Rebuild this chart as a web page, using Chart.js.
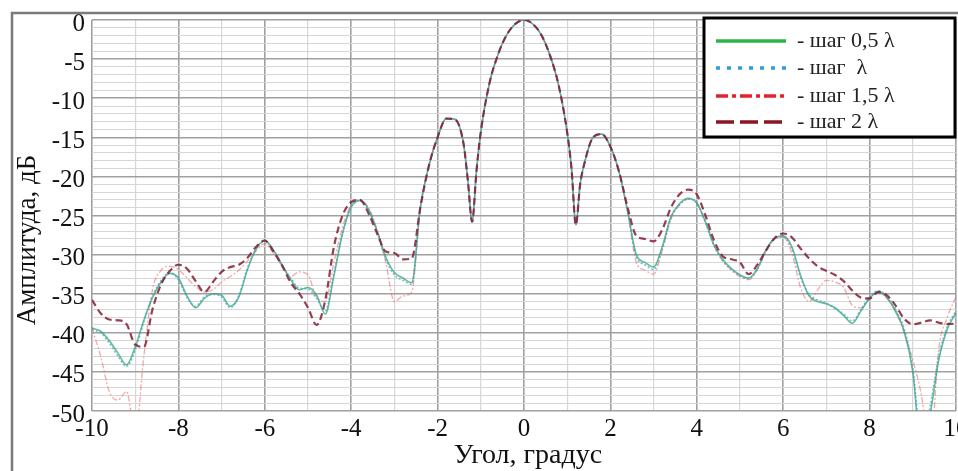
<!DOCTYPE html>
<html>
<head>
<meta charset="utf-8">
<script src="https://cdn.jsdelivr.net/npm/chart.js@4/dist/chart.umd.min.js"></script>
<style>
html,body{margin:0;padding:0;background:#fff;}
#wrap{width:958px;height:471px;position:relative;}
</style>
</head>
<body>
<div id="wrap"><canvas id="c" width="958" height="471"></canvas></div>
<script>
// Angle, degrees
const angles = [-10,-9.8,-9.6,-9.4,-9.2,-9,-8.8,-8.6,-8.4,-8.2,-8,-7.8,-7.6,-7.4,-7.2,-7,-6.8,-6.6,-6.4,-6.2,-6,-5.8,-5.6,-5.4,-5.2,-5,-4.8,-4.6,-4.4,-4.2,-4,-3.8,-3.6,-3.4,-3.2,-3,-2.8,-2.6,-2.4,-2.2,-2,-1.8,-1.6,-1.4,-1.3,-1.2,-1.1,-1,-0.8,-0.6,-0.4,-0.2,0,0.2,0.4,0.6,0.8,1,1.1,1.2,1.3,1.4,1.6,1.8,2,2.2,2.4,2.6,2.8,3,3.2,3.4,3.6,3.8,4,4.2,4.4,4.6,4.8,5,5.2,5.4,5.6,5.8,6,6.2,6.4,6.6,6.8,7,7.2,7.4,7.6,7.8,8,8.2,8.4,8.6,8.8,9,9.2,9.4,9.6,9.8,10];

// step 0.5 lambda
const step05 = [-39.4,-39.8,-41.0,-42.6,-44.1,-41.8,-38.4,-35.5,-33.5,-32.4,-33.0,-35.3,-36.8,-35.6,-35.0,-35.2,-36.6,-35.4,-31.9,-29.3,-28.2,-29.4,-31.3,-33.2,-34.5,-34.2,-35.2,-37.6,-32.7,-27.3,-23.9,-23.1,-24.2,-27.0,-30.3,-32.3,-33.0,-33.6,-24.0,-18.6,-15.0,-12.6,-12.7,-15.8,-20.5,-25.8,-19.3,-14.3,-8.1,-4.4,-1.9,-0.5,0,-0.5,-1.9,-4.5,-8.3,-14.4,-19.0,-26.2,-21.0,-18.3,-15.0,-14.6,-16.2,-19.4,-24.5,-30.0,-31.0,-31.6,-29.0,-25.2,-23.5,-22.8,-23.4,-25.8,-28.8,-30.6,-31.8,-32.6,-33.0,-31.8,-29.4,-27.9,-27.6,-29.0,-32.6,-35.3,-36.0,-36.3,-36.8,-37.8,-38.8,-37.2,-35.6,-34.7,-35.5,-37.3,-39.8,-45.0,-55.0,-50.5,-43.5,-39.5,-37.5];

// step lambda
const step1 = [-39.6,-40.0,-41.3,-43.0,-44.3,-42.2,-38.6,-35.3,-33.3,-32.3,-33.2,-35.5,-36.6,-35.4,-35.1,-35.4,-36.8,-35.2,-31.7,-29.2,-28.3,-29.5,-31.4,-33.0,-34.3,-34.4,-35.6,-37.2,-32.4,-27.2,-23.9,-23.1,-24.3,-27.1,-30.6,-32.6,-33.3,-33.8,-24.0,-18.6,-15.0,-12.6,-12.7,-15.8,-20.5,-25.8,-19.3,-14.3,-8.1,-4.4,-1.9,-0.5,0,-0.5,-1.9,-4.5,-8.3,-14.4,-19.0,-26.2,-21.0,-18.3,-15.0,-14.6,-16.2,-19.4,-24.5,-30.3,-31.3,-31.9,-29.2,-25.3,-23.6,-22.9,-23.4,-25.9,-28.9,-30.8,-31.9,-32.7,-33.1,-31.9,-29.5,-28.0,-27.7,-29.2,-32.9,-35.1,-35.8,-36.2,-36.9,-37.6,-38.5,-37.0,-35.4,-34.6,-35.3,-37.0,-39.5,-44.5,-54.0,-49.5,-43.0,-39.2,-37.2];

// step 1.5 lambda
const step15 = [-39.4,-43.0,-47.5,-48.6,-47.5,-53.0,-43.0,-34.5,-32.0,-31.5,-31.9,-33.0,-34.1,-34.8,-34.5,-33.5,-32.8,-32.0,-30.8,-29.5,-28.6,-29.8,-31.5,-32.8,-32.2,-32.6,-35.5,-36.0,-31.0,-26.5,-23.6,-23.0,-24.0,-26.8,-31.0,-36.0,-35.3,-34.8,-24.0,-18.6,-15.0,-12.6,-12.7,-15.8,-20.5,-25.8,-19.3,-14.3,-8.1,-4.4,-1.9,-0.5,0,-0.5,-1.9,-4.5,-8.3,-14.4,-19.0,-26.2,-21.0,-18.3,-15.0,-14.6,-16.2,-19.4,-24.5,-31.0,-32.0,-32.5,-29.5,-25.5,-23.7,-22.9,-23.4,-25.8,-28.8,-30.8,-32.0,-32.8,-33.2,-32.0,-29.6,-28.0,-27.8,-29.8,-34.2,-36.0,-34.5,-33.3,-33.5,-34.2,-36.5,-36.8,-35.5,-34.8,-35.6,-37.1,-40.0,-43.5,-48.0,-55.0,-42.0,-38.0,-35.4];

// step 2 lambda
const step2 = [-35.8,-37.5,-38.3,-38.4,-38.9,-41.5,-41.8,-37.0,-33.8,-32.1,-31.3,-31.8,-33.4,-34.8,-33.5,-32.2,-31.6,-31.3,-30.4,-29.0,-28.2,-29.6,-31.4,-33.6,-35.0,-36.8,-39.0,-35.8,-29.0,-25.0,-23.3,-23.0,-24.7,-27.3,-29.6,-29.8,-30.6,-30.5,-24.0,-18.6,-15.0,-12.6,-12.7,-15.8,-20.5,-25.8,-19.3,-14.3,-8.1,-4.4,-1.9,-0.5,0,-0.5,-1.9,-4.5,-8.3,-14.4,-19.0,-26.2,-21.0,-18.3,-15.0,-14.6,-16.2,-19.4,-24.0,-27.6,-28.0,-28.3,-26.8,-24.0,-22.3,-21.7,-22.3,-25.0,-28.2,-30.2,-30.6,-31.0,-32.5,-31.3,-29.5,-27.9,-27.3,-27.8,-29.2,-30.5,-31.5,-32.1,-32.6,-33.4,-34.6,-35.5,-35.6,-34.8,-35.2,-36.5,-38.2,-38.9,-38.7,-38.4,-38.7,-38.9,-38.8];

const xTickLabels = ['-10','-8','-6','-4','-2','0','2','4','6','8','10'];
const yTickLabels = ['0','-5','-10','-15','-20','-25','-30','-35','-40','-45','-50'];
const seriesNames = ['- шаг 0,5 λ', '- шаг  λ', '- шаг 1,5 λ', '- шаг 2 λ'];
const xTitle = 'Угол, градус';
const yTitle = 'Амплитуда, дБ';

const SERIF = "'Liberation Serif', 'Times New Roman', serif";
const toPts = arr => angles.map((x, i) => ({x: x, y: arr[i]}));

const legendStyles = [
  {color:'#2db34a', dash:[], width:3.5},
  {color:'#2a9fd8', dash:[4,7], width:3.5},
  {color:'#e8202a', dash:[12,4,4,4], width:3.5},
  {color:'#8b1520', dash:[18,6], width:3.5}
];

const decor = {
  id:'decor',
  beforeDraw(chart){
    const c = chart.ctx;
    c.save();
    c.fillStyle = '#fff';
    c.fillRect(0,0,chart.width,chart.height);
    c.restore();
  },
  afterDraw(chart){
    const c = chart.ctx;
    c.save();
    // figure frame
    c.strokeStyle = '#7a7a7a';
    c.lineWidth = 2.5;
    c.beginPath();
    c.moveTo(12, 471); c.lineTo(12, 13); c.lineTo(958, 13);
    c.stroke();
    // axis titles
    c.fillStyle = '#111';
    c.textAlign = 'center';
    c.textBaseline = 'middle';
    c.font = '28px ' + SERIF;
    c.fillText(xTitle, 528, 456);
    c.font = '27px ' + SERIF;
    c.translate(28, 240);
    c.rotate(-Math.PI/2);
    c.fillText(yTitle, 0, 0);
    c.restore();
    // legend
    c.save();
    c.fillStyle = '#fff';
    c.fillRect(704, 18, 251, 119);
    c.strokeStyle = '#000';
    c.lineWidth = 3;
    c.strokeRect(704, 18, 251, 119);
    const ys = [41, 68, 96, 122];
    c.font = '22px ' + SERIF;
    c.textAlign = 'left';
    c.textBaseline = 'middle';
    for (let i = 0; i < 4; i++) {
      const s = legendStyles[i];
      c.strokeStyle = s.color;
      c.lineWidth = s.width;
      c.setLineDash(s.dash);
      c.beginPath();
      c.moveTo(716, ys[i]); c.lineTo(786, ys[i]);
      c.stroke();
      c.setLineDash([]);
      c.fillStyle = '#222';
      c.fillText(seriesNames[i], 797, ys[i]);
    }
    c.restore();
  }
};

const MAJ = '#a0a0a0', MIN = '#d6d6d6';

new Chart(document.getElementById('c'), {
  type:'line',
  data:{
    datasets:[
      {label:seriesNames[0], data:toPts(step05), borderColor:'rgba(40,160,100,0.7)', borderWidth:1.6, pointRadius:0, cubicInterpolationMode:'monotone', order:2, clip:0},
      {label:seriesNames[1], data:toPts(step1), borderColor:'rgba(70,165,215,0.75)', borderWidth:1.6, borderDash:[2,2], pointRadius:0, cubicInterpolationMode:'monotone', order:1, clip:0},
      {label:seriesNames[2], data:toPts(step15), borderColor:'rgba(238,110,110,0.6)', borderWidth:1.3, borderDash:[6,2,2,2], pointRadius:0, cubicInterpolationMode:'monotone', order:3, clip:0},
      {label:seriesNames[3], data:toPts(step2), borderColor:'rgba(130,30,50,0.85)', borderWidth:2.2, borderDash:[7,4], pointRadius:0, cubicInterpolationMode:'monotone', order:0, clip:0}
    ]
  },
  options:{
    responsive:false,
    animation:false,
    devicePixelRatio:1,
    layout:{autoPadding:false, padding:{left:0, top:20, right:2, bottom:0}},
    plugins:{legend:{display:false}, tooltip:{enabled:false}},
    scales:{
      x:{
        type:'linear', min:-10, max:10,
        border:{display:false},
        grid:{drawTicks:false,
          color: ctx => (ctx.tick && Math.round(ctx.tick.value) % 2 === 0) ? MAJ : MIN,
          lineWidth: ctx => (ctx.tick && Math.round(ctx.tick.value) % 2 === 0) ? 1.6 : 1.2},
        ticks:{stepSize:1, autoSkip:false, maxRotation:0, padding:3, color:'#111',
          font:{family:SERIF, size:25},
          callback: v => { const r = Math.round(v); return r % 2 === 0 ? xTickLabels[(r + 10) / 2] : ''; }},
        afterFit: s => { s.height = 60; s.paddingLeft = 0; s.paddingRight = 0; }
      },
      y:{
        type:'linear', min:-50, max:0,
        border:{display:false},
        grid:{drawTicks:false,
          color: ctx => (ctx.tick && Math.round(ctx.tick.value) % 5 === 0) ? MAJ : MIN,
          lineWidth: ctx => (ctx.tick && Math.round(ctx.tick.value) % 5 === 0) ? 1.6 : 1},
        ticks:{stepSize:1, autoSkip:false, padding:7, labelOffset:4, color:'#111',
          font:{family:SERIF, size:25},
          callback: v => { const r = Math.round(v); return r % 5 === 0 ? yTickLabels[-r / 5] : ''; }},
        afterFit: s => { s.width = 92; s.paddingTop = 0; s.paddingBottom = 0; }
      }
    }
  },
  plugins:[decor]
});
</script>
</body>
</html>
